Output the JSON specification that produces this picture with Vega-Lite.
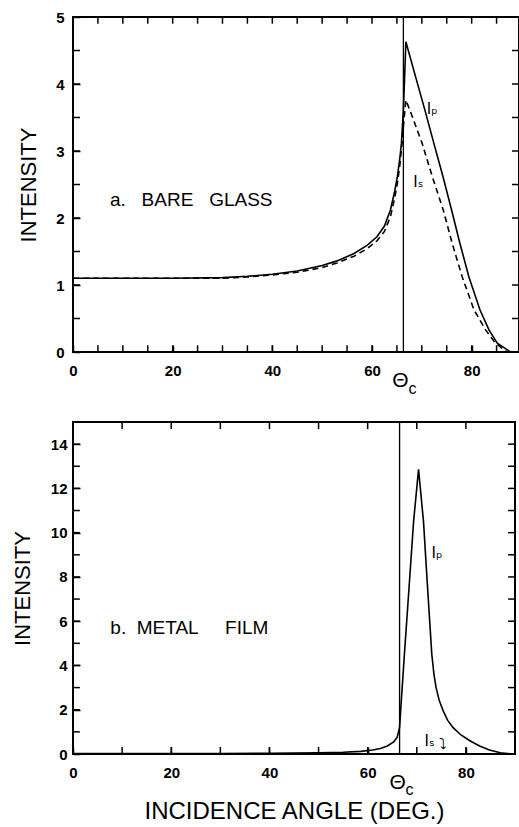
{
  "$schema": "https://vega.github.io/schema/vega-lite/v6.json",
  "background": "white",
  "padding": {"left": 10, "top": 9, "right": 0, "bottom": 0},
  "config": {
    "view": {"stroke": "black", "strokeWidth": 2},
    "font": "Liberation Sans",
    "axis": {
      "grid": false, "domain": false, "ticks": true, "tickColor": "black", "tickWidth": 1.5, "tickSize": 7, "offset": -7,
      "labelColor": "black", "labelFont": "Liberation Sans", "labelFontSize": 15, "labelFontWeight": "bold", "labelFlush": false,
      "titleFont": "Liberation Sans", "titleFontWeight": "normal", "titleColor": "black"
    }
  },
  "columns": 1,
  "spacing": 22,
  "datasets": {
    "bare_glass": [
      {"angle": 0, "intensity": 1.10, "pol": "Ip"},
      {"angle": 10, "intensity": 1.10, "pol": "Ip"},
      {"angle": 20, "intensity": 1.10, "pol": "Ip"},
      {"angle": 30, "intensity": 1.11, "pol": "Ip"},
      {"angle": 35, "intensity": 1.13, "pol": "Ip"},
      {"angle": 40, "intensity": 1.16, "pol": "Ip"},
      {"angle": 45, "intensity": 1.21, "pol": "Ip"},
      {"angle": 50, "intensity": 1.29, "pol": "Ip"},
      {"angle": 53, "intensity": 1.36, "pol": "Ip"},
      {"angle": 56.4, "intensity": 1.47, "pol": "Ip"},
      {"angle": 59, "intensity": 1.59, "pol": "Ip"},
      {"angle": 61, "intensity": 1.72, "pol": "Ip"},
      {"angle": 62.5, "intensity": 1.88, "pol": "Ip"},
      {"angle": 63.7, "intensity": 2.12, "pol": "Ip"},
      {"angle": 64.5, "intensity": 2.38, "pol": "Ip"},
      {"angle": 65.1, "intensity": 2.62, "pol": "Ip"},
      {"angle": 65.6, "intensity": 2.9, "pol": "Ip"},
      {"angle": 65.9, "intensity": 3.11, "pol": "Ip"},
      {"angle": 66.3, "intensity": 3.61, "pol": "Ip"},
      {"angle": 66.55, "intensity": 4.11, "pol": "Ip"},
      {"angle": 66.8, "intensity": 4.63, "pol": "Ip"},
      {"angle": 68.74, "intensity": 4.11, "pol": "Ip"},
      {"angle": 70.62, "intensity": 3.61, "pol": "Ip"},
      {"angle": 72.43, "intensity": 3.11, "pol": "Ip"},
      {"angle": 74.24, "intensity": 2.62, "pol": "Ip"},
      {"angle": 75.97, "intensity": 2.12, "pol": "Ip"},
      {"angle": 77.65, "intensity": 1.62, "pol": "Ip"},
      {"angle": 79.45, "intensity": 1.12, "pol": "Ip"},
      {"angle": 81.66, "intensity": 0.63, "pol": "Ip"},
      {"angle": 83.47, "intensity": 0.33, "pol": "Ip"},
      {"angle": 85.14, "intensity": 0.13, "pol": "Ip"},
      {"angle": 87.8, "intensity": 0.0, "pol": "Ip"},
      {"angle": 89.5, "intensity": 0.0, "pol": "Ip"},
      {"angle": 0, "intensity": 1.10, "pol": "Is"},
      {"angle": 10, "intensity": 1.10, "pol": "Is"},
      {"angle": 20, "intensity": 1.10, "pol": "Is"},
      {"angle": 30, "intensity": 1.10, "pol": "Is"},
      {"angle": 35, "intensity": 1.12, "pol": "Is"},
      {"angle": 40, "intensity": 1.15, "pol": "Is"},
      {"angle": 45, "intensity": 1.19, "pol": "Is"},
      {"angle": 50, "intensity": 1.26, "pol": "Is"},
      {"angle": 53, "intensity": 1.33, "pol": "Is"},
      {"angle": 56.4, "intensity": 1.43, "pol": "Is"},
      {"angle": 59, "intensity": 1.54, "pol": "Is"},
      {"angle": 61, "intensity": 1.66, "pol": "Is"},
      {"angle": 62.5, "intensity": 1.8, "pol": "Is"},
      {"angle": 63.7, "intensity": 2.02, "pol": "Is"},
      {"angle": 64.5, "intensity": 2.28, "pol": "Is"},
      {"angle": 65.1, "intensity": 2.52, "pol": "Is"},
      {"angle": 65.6, "intensity": 2.8, "pol": "Is"},
      {"angle": 66.0, "intensity": 3.1, "pol": "Is"},
      {"angle": 66.4, "intensity": 3.45, "pol": "Is"},
      {"angle": 66.8, "intensity": 3.76, "pol": "Is"},
      {"angle": 67.6, "intensity": 3.61, "pol": "Is"},
      {"angle": 70.08, "intensity": 3.11, "pol": "Is"},
      {"angle": 72.09, "intensity": 2.62, "pol": "Is"},
      {"angle": 74.3, "intensity": 2.12, "pol": "Is"},
      {"angle": 76.1, "intensity": 1.62, "pol": "Is"},
      {"angle": 78.11, "intensity": 1.12, "pol": "Is"},
      {"angle": 80.46, "intensity": 0.63, "pol": "Is"},
      {"angle": 82.79, "intensity": 0.33, "pol": "Is"},
      {"angle": 84.8, "intensity": 0.13, "pol": "Is"},
      {"angle": 87.1, "intensity": 0.0, "pol": "Is"},
      {"angle": 89.5, "intensity": 0.0, "pol": "Is"}
    ],
    "metal_film": [
      {"angle": 0, "intensity": 0.02, "pol": "Ip"},
      {"angle": 20, "intensity": 0.02, "pol": "Ip"},
      {"angle": 30, "intensity": 0.02, "pol": "Ip"},
      {"angle": 40, "intensity": 0.03, "pol": "Ip"},
      {"angle": 45, "intensity": 0.04, "pol": "Ip"},
      {"angle": 50, "intensity": 0.05, "pol": "Ip"},
      {"angle": 55, "intensity": 0.08, "pol": "Ip"},
      {"angle": 58.6, "intensity": 0.12, "pol": "Ip"},
      {"angle": 61, "intensity": 0.18, "pol": "Ip"},
      {"angle": 62.6, "intensity": 0.25, "pol": "Ip"},
      {"angle": 64, "intensity": 0.36, "pol": "Ip"},
      {"angle": 65.3, "intensity": 0.55, "pol": "Ip"},
      {"angle": 66, "intensity": 0.75, "pol": "Ip"},
      {"angle": 66.5, "intensity": 1.2, "pol": "Ip"},
      {"angle": 66.8, "intensity": 2.24, "pol": "Ip"},
      {"angle": 67.48, "intensity": 4.5, "pol": "Ip"},
      {"angle": 68.42, "intensity": 7.5, "pol": "Ip"},
      {"angle": 69.35, "intensity": 10.5, "pol": "Ip"},
      {"angle": 70.36, "intensity": 12.86, "pol": "Ip"},
      {"angle": 71.37, "intensity": 10.5, "pol": "Ip"},
      {"angle": 72.2, "intensity": 7.5, "pol": "Ip"},
      {"angle": 73.06, "intensity": 4.5, "pol": "Ip"},
      {"angle": 73.5, "intensity": 3.6, "pol": "Ip"},
      {"angle": 73.93, "intensity": 3.0, "pol": "Ip"},
      {"angle": 74.6, "intensity": 2.4, "pol": "Ip"},
      {"angle": 75.4, "intensity": 1.94, "pol": "Ip"},
      {"angle": 76.3, "intensity": 1.52, "pol": "Ip"},
      {"angle": 77.4, "intensity": 1.19, "pol": "Ip"},
      {"angle": 79, "intensity": 0.86, "pol": "Ip"},
      {"angle": 80.8, "intensity": 0.6, "pol": "Ip"},
      {"angle": 82.8, "intensity": 0.36, "pol": "Ip"},
      {"angle": 84.8, "intensity": 0.18, "pol": "Ip"},
      {"angle": 87, "intensity": 0.06, "pol": "Ip"},
      {"angle": 89, "intensity": 0.01, "pol": "Ip"}
    ],
    "frame_ticks": [
      {"panel": "a", "dim": "x", "value": 5}, {"panel": "a", "dim": "x", "value": 10}, {"panel": "a", "dim": "x", "value": 15},
      {"panel": "a", "dim": "x", "value": 20}, {"panel": "a", "dim": "x", "value": 25}, {"panel": "a", "dim": "x", "value": 30},
      {"panel": "a", "dim": "x", "value": 35}, {"panel": "a", "dim": "x", "value": 40}, {"panel": "a", "dim": "x", "value": 45},
      {"panel": "a", "dim": "x", "value": 50}, {"panel": "a", "dim": "x", "value": 55}, {"panel": "a", "dim": "x", "value": 60},
      {"panel": "a", "dim": "x", "value": 65}, {"panel": "a", "dim": "x", "value": 70}, {"panel": "a", "dim": "x", "value": 75},
      {"panel": "a", "dim": "x", "value": 80}, {"panel": "a", "dim": "x", "value": 85},
      {"panel": "a", "dim": "y", "value": 0.5}, {"panel": "a", "dim": "y", "value": 1}, {"panel": "a", "dim": "y", "value": 1.5},
      {"panel": "a", "dim": "y", "value": 2}, {"panel": "a", "dim": "y", "value": 2.5}, {"panel": "a", "dim": "y", "value": 3},
      {"panel": "a", "dim": "y", "value": 3.5}, {"panel": "a", "dim": "y", "value": 4}, {"panel": "a", "dim": "y", "value": 4.5},
      {"panel": "b", "dim": "x", "value": 10}, {"panel": "b", "dim": "x", "value": 20}, {"panel": "b", "dim": "x", "value": 30},
      {"panel": "b", "dim": "x", "value": 40}, {"panel": "b", "dim": "x", "value": 50}, {"panel": "b", "dim": "x", "value": 60},
      {"panel": "b", "dim": "x", "value": 70}, {"panel": "b", "dim": "x", "value": 80},
      {"panel": "b", "dim": "y", "value": 1}, {"panel": "b", "dim": "y", "value": 2}, {"panel": "b", "dim": "y", "value": 3},
      {"panel": "b", "dim": "y", "value": 4}, {"panel": "b", "dim": "y", "value": 5}, {"panel": "b", "dim": "y", "value": 6},
      {"panel": "b", "dim": "y", "value": 7}, {"panel": "b", "dim": "y", "value": 8}, {"panel": "b", "dim": "y", "value": 9},
      {"panel": "b", "dim": "y", "value": 10}, {"panel": "b", "dim": "y", "value": 11}, {"panel": "b", "dim": "y", "value": 12},
      {"panel": "b", "dim": "y", "value": 13}, {"panel": "b", "dim": "y", "value": 14}
    ],
    "critical": [
      {"panel": "a", "angle": 66.3},
      {"panel": "b", "angle": 66.5}
    ],
    "curve_labels": [
      {"panel": "a", "angle": 72.1, "intensity": 3.63, "text": "Iₚ"},
      {"panel": "a", "angle": 69.3, "intensity": 2.54, "text": "Iₛ"},
      {"panel": "b", "angle": 74.1, "intensity": 9.1, "text": "Iₚ"},
      {"panel": "b", "angle": 72.6, "intensity": 0.6, "text": "Iₛ"},
      {"panel": "b", "angle": 75.3, "intensity": 0.45, "text": "⤵"}
    ],
    "panel_titles": [
      {"panel": "a", "angle": 7.4, "intensity": 2.27, "text": "a.\u00a0\u00a0\u00a0BARE\u00a0\u00a0\u00a0GLASS"},
      {"panel": "b", "angle": 7.6, "intensity": 5.7, "text": "b.\u00a0\u00a0METAL\u00a0\u00a0\u00a0\u00a0\u00a0FILM"}
    ]
  },
  "concat": [
    {
      "width": 446,
      "height": 335,
      "resolve": {"axis": {"x": "independent", "y": "independent"}},
      "layer": [
        {
          "data": {"name": "bare_glass"},
          "transform": [{"filter": "datum.pol == 'Ip'"}],
          "mark": {"type": "line", "color": "black", "strokeWidth": 1.6},
          "encoding": {
            "x": {"field": "angle", "type": "quantitative", "scale": {"domain": [0, 89.5], "nice": false, "zero": false},
              "axis": {"orient": "bottom", "title": null, "values": [0,20,40,60,80], "labelPadding": 11}},
            "y": {"field": "intensity", "type": "quantitative", "scale": {"domain": [0, 5], "nice": false},
              "axis": {"orient": "left", "title": "INTENSITY", "titleFontSize": 22, "titlePadding": 15, "values": [0,1,2,3,4,5], "labelExpr": "format(datum.value, 'd')", "labelPadding": 9}}
          }
        },
        {
          "data": {"name": "bare_glass"},
          "transform": [{"filter": "datum.pol == 'Is'"}],
          "mark": {"type": "line", "color": "black", "strokeWidth": 1.6, "strokeDash": [6, 4]},
          "encoding": {
            "x": {"field": "angle", "type": "quantitative", "axis": null},
            "y": {"field": "intensity", "type": "quantitative", "axis": null}
          }
        },
        {
          "data": {"name": "frame_ticks"},
          "transform": [{"filter": "datum.panel == 'a' && datum.dim == 'x'"}],
          "mark": {"type": "rule", "color": "black", "strokeWidth": 1.5},
          "encoding": {"x": {"field": "value", "type": "quantitative", "axis": null}, "y": {"datum": 0, "axis": null}, "y2": {"datum": 0.1}}
        },
        {
          "data": {"name": "frame_ticks"},
          "transform": [{"filter": "datum.panel == 'a' && datum.dim == 'x'"}],
          "mark": {"type": "rule", "color": "black", "strokeWidth": 1.5},
          "encoding": {"x": {"field": "value", "type": "quantitative", "axis": null}, "y": {"datum": 5, "axis": null}, "y2": {"datum": 4.9}}
        },
        {
          "data": {"name": "frame_ticks"},
          "transform": [{"filter": "datum.panel == 'a' && datum.dim == 'y'"}],
          "mark": {"type": "rule", "color": "black", "strokeWidth": 1.5},
          "encoding": {"y": {"field": "value", "type": "quantitative", "axis": null}, "x": {"datum": 0, "axis": null}, "x2": {"datum": 1.4}}
        },
        {
          "data": {"name": "frame_ticks"},
          "transform": [{"filter": "datum.panel == 'a' && datum.dim == 'y'"}],
          "mark": {"type": "rule", "color": "black", "strokeWidth": 1.5},
          "encoding": {"y": {"field": "value", "type": "quantitative", "axis": null}, "x": {"datum": 89.5, "axis": null}, "x2": {"datum": 88.1}}
        },
        {
          "data": {"name": "critical"},
          "transform": [{"filter": "datum.panel == 'a'"}],
          "mark": {"type": "rule", "color": "black", "strokeWidth": 1.3},
          "encoding": {"x": {"field": "angle", "type": "quantitative", "axis": null}}
        },
        {
          "data": {"name": "critical"},
          "transform": [{"filter": "datum.panel == 'a'"}],
          "mark": {"type": "text", "text": "Θ", "fontSize": 21, "font": "Liberation Sans", "dx": -3, "dy": 29, "baseline": "middle", "align": "center", "color": "black"},
          "encoding": {"x": {"field": "angle", "type": "quantitative", "axis": null}, "y": {"datum": 0, "axis": null}}
        },
        {
          "data": {"name": "critical"},
          "transform": [{"filter": "datum.panel == 'a'"}],
          "mark": {"type": "text", "text": "c", "fontSize": 16, "font": "Liberation Sans", "dx": 9, "dy": 37, "baseline": "middle", "align": "center", "color": "black"},
          "encoding": {"x": {"field": "angle", "type": "quantitative", "axis": null}, "y": {"datum": 0, "axis": null}}
        },
        {
          "data": {"name": "curve_labels"},
          "transform": [{"filter": "datum.panel == 'a'"}],
          "mark": {"type": "text", "fontSize": 15, "font": "DejaVu Sans", "baseline": "middle", "align": "center", "color": "black"},
          "encoding": {"x": {"field": "angle", "type": "quantitative", "axis": null}, "y": {"field": "intensity", "type": "quantitative", "axis": null}, "text": {"field": "text"}}
        },
        {
          "data": {"name": "panel_titles"},
          "transform": [{"filter": "datum.panel == 'a'"}],
          "mark": {"type": "text", "fontSize": 19, "font": "Liberation Sans", "baseline": "middle", "align": "left", "color": "black"},
          "encoding": {"x": {"field": "angle", "type": "quantitative", "axis": null}, "y": {"field": "intensity", "type": "quantitative", "axis": null}, "text": {"field": "text"}}
        }
      ]
    },
    {
      "width": 442,
      "height": 332,
      "resolve": {"axis": {"x": "independent", "y": "independent"}},
      "layer": [
        {
          "data": {"name": "metal_film"},
          "transform": [{"filter": "datum.pol == 'Ip'"}],
          "mark": {"type": "line", "color": "black", "strokeWidth": 1.6},
          "encoding": {
            "x": {"field": "angle", "type": "quantitative", "scale": {"domain": [0, 90], "nice": false, "zero": false},
              "axis": {"orient": "bottom", "title": "INCIDENCE ANGLE (DEG.)", "titleFontSize": 24, "titlePadding": 19, "values": [0,20,40,60,80], "labelPadding": 11}},
            "y": {"field": "intensity", "type": "quantitative", "scale": {"domain": [0, 15], "nice": false},
              "axis": {"orient": "left", "title": "INTENSITY", "titleFontSize": 22, "titlePadding": 16, "values": [0,2,4,6,8,10,12,14], "labelPadding": 6}}
          }
        },
        {
          "data": {"name": "frame_ticks"},
          "transform": [{"filter": "datum.panel == 'b' && datum.dim == 'x'"}],
          "mark": {"type": "rule", "color": "black", "strokeWidth": 1.5},
          "encoding": {"x": {"field": "value", "type": "quantitative", "axis": null}, "y": {"datum": 0, "axis": null}, "y2": {"datum": 0.32}}
        },
        {
          "data": {"name": "frame_ticks"},
          "transform": [{"filter": "datum.panel == 'b' && datum.dim == 'x'"}],
          "mark": {"type": "rule", "color": "black", "strokeWidth": 1.5},
          "encoding": {"x": {"field": "value", "type": "quantitative", "axis": null}, "y": {"datum": 15, "axis": null}, "y2": {"datum": 14.68}}
        },
        {
          "data": {"name": "frame_ticks"},
          "transform": [{"filter": "datum.panel == 'b' && datum.dim == 'y'"}],
          "mark": {"type": "rule", "color": "black", "strokeWidth": 1.5},
          "encoding": {"y": {"field": "value", "type": "quantitative", "axis": null}, "x": {"datum": 0, "axis": null}, "x2": {"datum": 1.4}}
        },
        {
          "data": {"name": "frame_ticks"},
          "transform": [{"filter": "datum.panel == 'b' && datum.dim == 'y'"}],
          "mark": {"type": "rule", "color": "black", "strokeWidth": 1.5},
          "encoding": {"y": {"field": "value", "type": "quantitative", "axis": null}, "x": {"datum": 90, "axis": null}, "x2": {"datum": 88.6}}
        },
        {
          "data": {"name": "critical"},
          "transform": [{"filter": "datum.panel == 'b'"}],
          "mark": {"type": "rule", "color": "black", "strokeWidth": 1.3},
          "encoding": {"x": {"field": "angle", "type": "quantitative", "axis": null}}
        },
        {
          "data": {"name": "critical"},
          "transform": [{"filter": "datum.panel == 'b'"}],
          "mark": {"type": "text", "text": "Θ", "fontSize": 21, "font": "Liberation Sans", "dx": -2, "dy": 29, "baseline": "middle", "align": "center", "color": "black"},
          "encoding": {"x": {"field": "angle", "type": "quantitative", "axis": null}, "y": {"datum": 0, "axis": null}}
        },
        {
          "data": {"name": "critical"},
          "transform": [{"filter": "datum.panel == 'b'"}],
          "mark": {"type": "text", "text": "c", "fontSize": 16, "font": "Liberation Sans", "dx": 10, "dy": 36, "baseline": "middle", "align": "center", "color": "black"},
          "encoding": {"x": {"field": "angle", "type": "quantitative", "axis": null}, "y": {"datum": 0, "axis": null}}
        },
        {
          "data": {"name": "curve_labels"},
          "transform": [{"filter": "datum.panel == 'b'"}],
          "mark": {"type": "text", "fontSize": 15, "font": "DejaVu Sans", "baseline": "middle", "align": "center", "color": "black"},
          "encoding": {"x": {"field": "angle", "type": "quantitative", "axis": null}, "y": {"field": "intensity", "type": "quantitative", "axis": null}, "text": {"field": "text"}}
        },
        {
          "data": {"name": "panel_titles"},
          "transform": [{"filter": "datum.panel == 'b'"}],
          "mark": {"type": "text", "fontSize": 19, "font": "Liberation Sans", "baseline": "middle", "align": "left", "color": "black"},
          "encoding": {"x": {"field": "angle", "type": "quantitative", "axis": null}, "y": {"field": "intensity", "type": "quantitative", "axis": null}, "text": {"field": "text"}}
        }
      ]
    }
  ]
}
